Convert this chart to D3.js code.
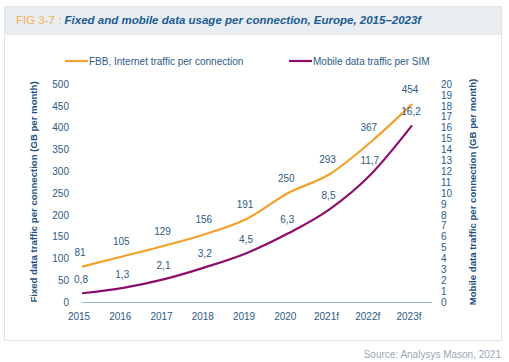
<!DOCTYPE html>
<html>
<head>
<meta charset="utf-8">
<script src="https://cdn.jsdelivr.net/npm/d3@7"></script>
<style>
  body { margin: 0; background: #fff; }
  svg { display: block; font-family: "Liberation Sans", Arial, sans-serif; }
</style>
</head>
<body>
<svg id="chart" width="509" height="362"></svg>
<script>
// chart data
const years = ["2015", "2016", "2017", "2018", "2019", "2020", "2021f", "2022f", "2023f"];
const fixedValues = [81, 105, 129, 156, 191, 250, 293, 367, 454];
const mobileValues = [0.8, 1.3, 2.1, 3.2, 4.5, 6.3, 8.5, 11.7, 16.2];
const leftTicks = [0, 50, 100, 150, 200, 250, 300, 350, 400, 450, 500];
const rightTicks = d3.range(0, 21);

const textBlue = '#2d5b86';
const orange = '#f2a22c';
const purple = '#8c0f6c';

const svg = d3.select('#chart');

// panel + title band
svg.append('rect')
  .attr('x', 4.5).attr('y', 6.5).attr('width', 497).attr('height', 334)
  .attr('fill', '#fff').attr('stroke', '#dfe3e7');
svg.append('rect')
  .attr('x', 5).attr('y', 7).attr('width', 496).attr('height', 28)
  .attr('fill', '#e8edf2');

const title = svg.append('text')
  .attr('x', 16).attr('y', 24)
  .style('font-size', '11.5px');
title.append('tspan').attr('fill', '#f3b24e').text('FIG 3-7 : ');
title.append('tspan')
  .attr('fill', '#1d5a93')
  .style('font-weight', 'bold')
  .style('font-style', 'italic')
  .text('Fixed and mobile data usage per connection, Europe, 2015–2023f');

// scales
const x = d3.scalePoint().domain(years).range([82, 412]);
const yLeft = d3.scaleLinear().domain([0, 500]).range([302, 84]);
const yRight = d3.scaleLinear().domain([0, 20]).range([302, 84]);

// x axis line
svg.append('line')
  .attr('x1', 82).attr('x2', 432)
  .attr('y1', 302.5).attr('y2', 302.5)
  .attr('stroke', '#9fb6cc').attr('stroke-width', 1);

svg.append('g').selectAll('text')
  .data(years)
  .join('text')
  .attr('x', d => x(d) - 3)
  .attr('y', 320)
  .attr('text-anchor', 'middle')
  .attr('fill', textBlue)
  .style('font-size', '10px')
  .text(d => d);

// left axis
const leftAxis = svg.append('g')
  .attr('transform', 'translate(69,0)')
  .call(d3.axisLeft(yLeft).tickValues(leftTicks).tickSize(0).tickPadding(0));
leftAxis.select('.domain').remove();
leftAxis.selectAll('text').attr('fill', textBlue).style('font-size', '10px')
  .style('font-family', '"Liberation Sans", Arial, sans-serif');

// right axis
const rightAxis = svg.append('g')
  .attr('transform', 'translate(441,0)')
  .call(d3.axisRight(yRight).tickValues(rightTicks).tickSize(0).tickPadding(0));
rightAxis.select('.domain').remove();
rightAxis.selectAll('text').attr('fill', textBlue).style('font-size', '10px')
  .style('font-family', '"Liberation Sans", Arial, sans-serif');

// axis titles
svg.append('text')
  .attr('transform', 'translate(37,192) rotate(-90)')
  .attr('text-anchor', 'middle')
  .attr('fill', '#1d4f80')
  .style('font-size', '9.6px').style('font-weight', 'bold')
  .text('Fixed data traffic per connection (GB per month)');

svg.append('text')
  .attr('transform', 'translate(476,192) rotate(-90)')
  .attr('text-anchor', 'middle')
  .attr('fill', '#1d4f80')
  .style('font-size', '9.6px').style('font-weight', 'bold')
  .text('Mobile data traffic per connection (GB per month)');

// lines
const fixedLine = d3.line()
  .x((d, i) => x(years[i]))
  .y(d => yLeft(d))
  .curve(d3.curveMonotoneX);
const mobileLine = d3.line()
  .x((d, i) => x(years[i]))
  .y(d => yRight(d))
  .curve(d3.curveMonotoneX);

svg.append('path')
  .attr('d', fixedLine(fixedValues))
  .attr('fill', 'none').attr('stroke', orange).attr('stroke-width', 2.2);
svg.append('path')
  .attr('d', mobileLine(mobileValues))
  .attr('fill', 'none').attr('stroke', purple).attr('stroke-width', 2.2);

// value labels
svg.append('g').selectAll('text')
  .data(fixedValues)
  .join('text')
  .attr('x', (d, i) => x(years[i]) - 2)
  .attr('y', d => yLeft(d) - 11)
  .attr('text-anchor', 'middle')
  .attr('fill', textBlue)
  .style('font-size', '10px')
  .text(d => d);

svg.append('g').selectAll('text')
  .data(mobileValues)
  .join('text')
  .attr('x', (d, i) => x(years[i]) - 1)
  .attr('y', d => yRight(d) - 10)
  .attr('text-anchor', 'middle')
  .attr('fill', textBlue)
  .style('font-size', '10px')
  .text(d => String(d).replace('.', ','));

// legend
const legendItems = [
  { label: 'FBB, Internet traffic per connection', color: orange, x: 65 },
  { label: 'Mobile data traffic per SIM', color: purple, x: 289 }
];
const legend = svg.append('g').selectAll('g')
  .data(legendItems)
  .join('g')
  .attr('transform', d => `translate(${d.x},61)`);
legend.append('line')
  .attr('x1', 0).attr('x2', 23).attr('y1', 0).attr('y2', 0)
  .attr('stroke', d => d.color).attr('stroke-width', 2.2);
legend.append('text')
  .attr('x', 24).attr('y', 3.5)
  .attr('fill', textBlue)
  .style('font-size', '10px')
  .text(d => d.label);

// source
svg.append('text')
  .attr('x', 501).attr('y', 358)
  .attr('text-anchor', 'end')
  .attr('fill', '#9aa7b5')
  .style('font-size', '10px')
  .text('Source: Analysys Mason, 2021');
</script>
</body>
</html>
